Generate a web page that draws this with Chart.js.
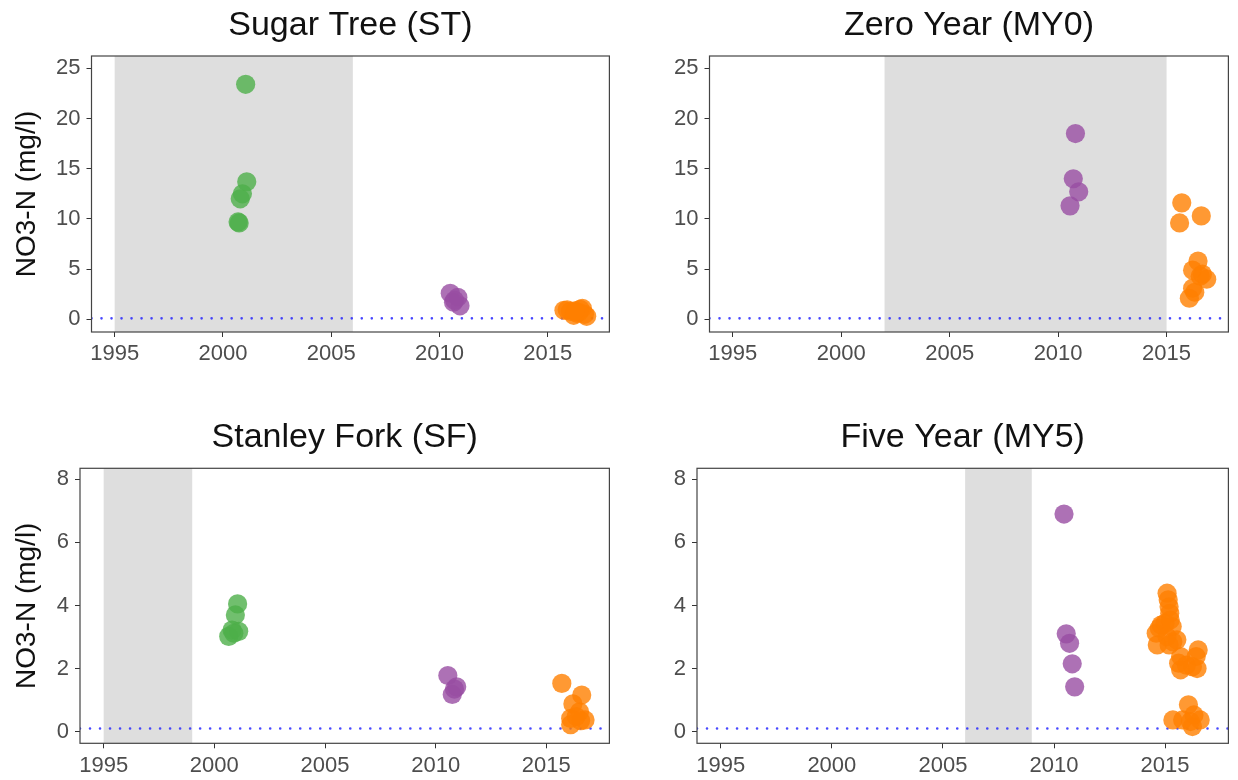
<!DOCTYPE html>
<html>
<head>
<meta charset="utf-8">
<title>NO3-N by site</title>
<script src="https://cdn.jsdelivr.net/npm/chart.js@4.4.1/dist/chart.umd.min.js"></script>
<style>
  html, body { margin: 0; padding: 0; background: #ffffff; }
  #wrap { position: relative; width: 1238px; height: 780px; overflow: hidden; }
  canvas { position: absolute; }
</style>
</head>
<body>
<div id="wrap">
  <canvas id="c1" width="619" height="390" style="left:0px;top:0px;"></canvas>
  <canvas id="c2" width="619" height="390" style="left:619px;top:0px;"></canvas>
  <canvas id="c3" width="619" height="368" style="left:0px;top:412px;"></canvas>
  <canvas id="c4" width="619" height="368" style="left:619px;top:412px;"></canvas>
</div>
<script>
// ---- axis ticks ----
const yearTicks = [1995, 2000, 2005, 2010, 2015];
const yTicksHigh = [0, 5, 10, 15, 20, 25];
const yTicksLow = [0, 2, 4, 6, 8];
const reportingLimit = 0.1;

// ---- Sugar Tree (ST) ----
const stGreenX  = [2001.05, 2001.1, 2000.9, 2000.8, 2000.7, 2000.75];
const stGreenY  = [23.4, 13.7, 12.5, 12.0, 9.7, 9.6];
const stPurpleX = [2010.5, 2010.85, 2010.65, 2010.95, 2010.7];
const stPurpleY = [2.6, 2.2, 1.7, 1.35, 1.9];
const stOrangeX = [2015.75, 2015.9, 2016.05, 2016.2, 2016.35, 2016.5, 2016.6, 2016.7, 2016.8, 2016.45, 2016.25];
const stOrangeY = [0.9, 0.95, 0.8, 0.4, 0.6, 1.0, 1.1, 0.5, 0.3, 0.7, 0.85];
const stShade = [1995, 2006];

// ---- Zero Year (MY0) ----
const my0PurpleX = [2010.8, 2010.7, 2010.95, 2010.55];
const my0PurpleY = [18.5, 14.0, 12.7, 11.3];
const my0OrangeX = [2015.7, 2015.6, 2016.6, 2016.45, 2016.2, 2016.65, 2016.85, 2016.55, 2016.2, 2016.3, 2016.05];
const my0OrangeY = [11.6, 9.6, 10.3, 5.8, 4.9, 4.5, 4.0, 4.3, 3.1, 2.7, 2.1];
const my0Shade = [2002, 2015];

// ---- Stanley Fork (SF) ----
const sfGreenX  = [2001.05, 2000.95, 2001.1, 2000.8, 2000.65, 2000.88];
const sfGreenY  = [4.05, 3.7, 3.18, 3.22, 3.02, 3.12];
const sfPurpleX = [2010.55, 2010.95, 2010.75, 2010.85];
const sfPurpleY = [1.78, 1.42, 1.18, 1.35];
const sfOrangeX = [2015.7, 2016.6, 2016.2, 2016.5, 2016.1, 2016.75, 2016.1, 2016.35, 2016.55];
const sfOrangeY = [1.53, 1.16, 0.88, 0.63, 0.42, 0.37, 0.22, 0.48, 0.35];
const sfShade = [1995, 1999];

// ---- Five Year (MY5) ----
const my5PurpleX = [2010.45, 2010.55, 2010.7, 2010.82, 2010.93];
const my5PurpleY = [6.9, 3.1, 2.8, 2.15, 1.42];
const my5OrangeX = [2014.65, 2014.6, 2014.82, 2014.74, 2015.0, 2015.09, 2015.14, 2015.18, 2015.21, 2015.23,
                    2015.32, 2015.09, 2015.35, 2015.53, 2015.18, 2015.7, 2015.61, 2015.7, 2015.96, 2016.23,
                    2016.49, 2016.4, 2016.44, 2016.05, 2015.35, 2015.79, 2016.14, 2016.58, 2016.23, 2016.3];
const my5OrangeY = [2.75, 3.12, 3.38, 3.28, 3.44, 4.39, 4.18, 3.96, 3.75, 3.54,
                    3.33, 3.01, 2.85, 2.91, 2.75, 2.38, 2.17, 1.96, 2.11, 2.06,
                    2.59, 2.38, 2.0, 0.85, 0.37, 0.37, 0.32, 0.37, 0.16, 0.53];
const my5Shade = [2006, 2009];

// ---- styling ----
const FONT = '"Liberation Sans", Arial, Helvetica, sans-serif';
const GREEN = 'rgba(77,175,74,0.8)';
const PURPLE = 'rgba(152,78,163,0.8)';
const ORANGE = 'rgba(255,127,0,0.8)';
const X_MIN = 1993.93, X_MAX = 2017.85;

const pts = (xs, ys) => xs.map((x, i) => ({ x: x, y: ys[i] }));

// grey rectangle spanning the full panel height between two years
const shadePlugin = {
  id: 'shade',
  beforeDatasetsDraw(chart, args, opts) {
    const { ctx, chartArea } = chart;
    const xs = chart.scales.x;
    const a = xs.getPixelForValue(opts.from);
    const b = xs.getPixelForValue(opts.to);
    ctx.save();
    ctx.fillStyle = '#dedede';
    ctx.fillRect(a, chartArea.top, b - a, chartArea.bottom - chartArea.top);
    ctx.restore();
  }
};

// panel frame and a title centred over the plotting region
const framePlugin = {
  id: 'frame',
  afterDraw(chart, args, opts) {
    const { ctx, chartArea } = chart;
    ctx.save();
    ctx.strokeStyle = '#444444';
    ctx.lineWidth = 1.2;
    ctx.strokeRect(chartArea.left, chartArea.top, chartArea.right - chartArea.left, chartArea.bottom - chartArea.top);
    ctx.fillStyle = '#111111';
    ctx.font = '34px ' + FONT;
    ctx.textAlign = 'center';
    ctx.textBaseline = 'alphabetic';
    ctx.fillText(opts.text, (chartArea.left + chartArea.right) / 2, 35);
    ctx.restore();
  }
};

function makePanel(id, cfg) {
  const datasets = [
    {
      type: 'line',
      data: [{ x: X_MIN, y: reportingLimit }, { x: X_MAX, y: reportingLimit }],
      borderColor: 'rgba(40,40,255,0.85)',
      borderWidth: 2.6,
      borderCapStyle: 'round',
      borderDash: [0.01, 10],
      pointRadius: 0,
      order: 10
    }
  ];
  cfg.series.forEach((s, i) => {
    datasets.push({
      type: 'scatter',
      data: pts(s.x, s.y),
      backgroundColor: s.color,
      borderWidth: 0,
      pointRadius: 9.6,
      pointHoverRadius: 9.6,
      order: i
    });
  });

  new Chart(document.getElementById(id), {
    type: 'scatter',
    data: { datasets: datasets },
    options: {
      responsive: false,
      animation: false,
      devicePixelRatio: 1,
      layout: { padding: { top: cfg.top, right: cfg.right, left: 0, bottom: 0 } },
      plugins: {
        legend: { display: false },
        tooltip: { enabled: false },
        shade: { from: cfg.shade[0], to: cfg.shade[1] },
        frame: { text: cfg.title }
      },
      scales: {
        x: {
          type: 'linear',
          position: 'bottom',
          min: X_MIN,
          max: X_MAX,
          afterBuildTicks: s => { s.ticks = yearTicks.map(v => ({ value: v })); },
          afterFit: s => { s.height = cfg.xHeight; },
          grid: { drawOnChartArea: false, drawTicks: true, tickLength: 5, color: '#333333', lineWidth: 1 },
          border: { display: false },
          ticks: {
            autoSkip: false,
            maxRotation: 0,
            padding: 4,
            color: '#4d4d4d',
            font: { family: FONT, size: 22 },
            callback: v => String(v)
          }
        },
        y: {
          type: 'linear',
          position: 'left',
          min: cfg.yMin,
          max: cfg.yMax,
          afterBuildTicks: s => { s.ticks = cfg.yTicks.map(v => ({ value: v })); },
          afterFit: s => { s.width = cfg.yWidth; },
          grid: { drawOnChartArea: false, drawTicks: true, tickLength: 5, color: '#333333', lineWidth: 1 },
          border: { display: false },
          ticks: {
            autoSkip: false,
            padding: 6,
            color: '#4d4d4d',
            font: { family: FONT, size: 22 },
            callback: v => String(v)
          },
          title: {
            display: cfg.yTitle,
            text: 'NO3-N (mg/l)',
            color: '#111111',
            font: { family: FONT, size: 28 },
            padding: { top: 10, bottom: 0 }
          }
        }
      }
    },
    plugins: [shadePlugin, framePlugin]
  });
}

makePanel('c1', {
  title: 'Sugar Tree (ST)', shade: stShade, yTitle: true,
  yMin: -1.26, yMax: 26.22, yTicks: yTicksHigh,
  top: 56, right: 7, yWidth: 91.5, xHeight: 58,
  series: [
    { x: stGreenX, y: stGreenY, color: GREEN },
    { x: stPurpleX, y: stPurpleY, color: PURPLE },
    { x: stOrangeX, y: stOrangeY, color: ORANGE }
  ]
});

makePanel('c2', {
  title: 'Zero Year (MY0)', shade: my0Shade, yTitle: false,
  yMin: -1.26, yMax: 26.22, yTicks: yTicksHigh,
  top: 56, right: 3, yWidth: 90.5, xHeight: 58,
  series: [
    { x: my0PurpleX, y: my0PurpleY, color: PURPLE },
    { x: my0OrangeX, y: my0OrangeY, color: ORANGE }
  ]
});

makePanel('c3', {
  title: 'Stanley Fork (SF)', shade: sfShade, yTitle: true,
  yMin: -0.37, yMax: 8.35, yTicks: yTicksLow,
  top: 56.3, right: 7, yWidth: 80, xHeight: 36.7,
  series: [
    { x: sfGreenX, y: sfGreenY, color: GREEN },
    { x: sfPurpleX, y: sfPurpleY, color: PURPLE },
    { x: sfOrangeX, y: sfOrangeY, color: ORANGE }
  ]
});

makePanel('c4', {
  title: 'Five Year (MY5)', shade: my5Shade, yTitle: false,
  yMin: -0.37, yMax: 8.35, yTicks: yTicksLow,
  top: 56.3, right: 3, yWidth: 78, xHeight: 36.7,
  series: [
    { x: my5PurpleX, y: my5PurpleY, color: PURPLE },
    { x: my5OrangeX, y: my5OrangeY, color: ORANGE }
  ]
});
</script>
</body>
</html>
